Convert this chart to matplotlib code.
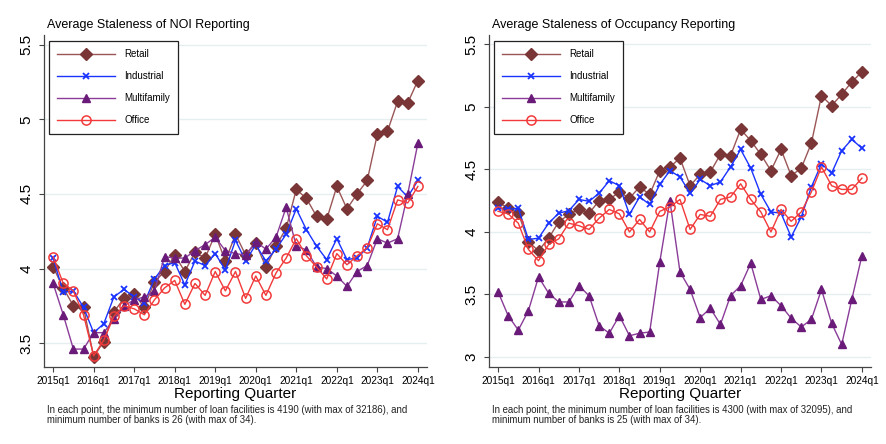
import numpy as np
import matplotlib.pyplot as plt

plt.rcParams['font.family'] = ['Liberation Sans', 'DejaVu Sans']

quarters = ['%dq%d' % (y, q) for y in range(2015, 2025) for q in range(1, 5)][:37]
tick_labels = ['%dq1' % y for y in range(2015, 2025)]

# NOI reporting staleness, 2015q1-2024q1
retail_noi = [4.01, 3.87, 3.75, 3.74, 3.41, 3.51, 3.71, 3.80, 3.83, 3.74, 3.91, 3.98, 4.09, 3.98, 4.11, 4.07,
              4.23, 4.05, 4.23, 4.09, 4.17, 4.01, 4.15, 4.27, 4.53, 4.47, 4.35, 4.33, 4.55, 4.40, 4.50, 4.59,
              4.90, 4.92, 5.12, 5.11, 5.26]
industrial_noi = [4.07, 3.84, 3.85, 3.74, 3.57, 3.63, 3.81, 3.86, 3.81, 3.77, 3.93, 4.02, 4.04, 3.89, 4.05, 4.02,
                  4.10, 3.99, 4.19, 4.05, 4.16, 4.05, 4.13, 4.23, 4.40, 4.26, 4.15, 4.06, 4.20, 4.06, 4.07, 4.14,
                  4.35, 4.31, 4.55, 4.48, 4.59]
multifamily_noi = [3.90, 3.69, 3.46, 3.46, 3.57, 3.57, 3.66, 3.75, 3.79, 3.81, 3.85, 4.08, 4.07, 4.07, 4.12, 4.16,
                   4.21, 4.12, 4.10, 4.09, 4.18, 4.13, 4.21, 4.41, 4.15, 4.125, 4.01, 4.00, 3.95, 3.88, 3.98, 4.02,
                   4.20, 4.17, 4.20, 4.50, 4.84]
office_noi = [4.08, 3.90, 3.85, 3.69, 3.415, 3.52, 3.68, 3.75, 3.73, 3.69, 3.79, 3.87, 3.92, 3.76, 3.90, 3.82,
              3.98, 3.85, 3.98, 3.80, 3.95, 3.82, 3.97, 4.07, 4.20, 4.085, 4.01, 3.93, 4.10, 4.025, 4.085, 4.14,
              4.30, 4.26, 4.46, 4.44, 4.55]

# occupancy reporting staleness
retail_occ = [4.24, 4.19, 4.15, 3.92, 3.85, 3.95, 4.08, 4.14, 4.18, 4.15, 4.25, 4.26, 4.32, 4.27, 4.36, 4.30,
              4.49, 4.52, 4.59, 4.37, 4.46, 4.48, 4.62, 4.61, 4.82, 4.73, 4.62, 4.49, 4.66, 4.45, 4.51, 4.71,
              5.09, 5.01, 5.10, 5.20, 5.28]
industrial_occ = [4.19, 4.18, 4.19, 3.94, 3.95, 4.07, 4.15, 4.17, 4.26, 4.245, 4.31, 4.41, 4.37, 4.14, 4.28, 4.22,
                  4.38, 4.49, 4.44, 4.31, 4.42, 4.37, 4.40, 4.52, 4.66, 4.51, 4.30, 4.16, 4.15, 3.96, 4.12, 4.36,
                  4.545, 4.47, 4.65, 4.74, 4.67]
multifamily_occ = [3.52, 3.33, 3.215, 3.37, 3.64, 3.51, 3.44, 3.44, 3.57, 3.49, 3.25, 3.19, 3.33, 3.17, 3.19, 3.20,
                   3.76, 4.25, 3.68, 3.54, 3.315, 3.39, 3.26, 3.49, 3.57, 3.75, 3.46, 3.49, 3.41, 3.31, 3.24, 3.30,
                   3.54, 3.27, 3.10, 3.46, 3.81]
office_occ = [4.165, 4.145, 4.07, 3.86, 3.77, 3.90, 3.945, 4.07, 4.05, 4.02, 4.11, 4.18, 4.145, 4.00, 4.10, 4.00,
              4.165, 4.20, 4.26, 4.02, 4.14, 4.125, 4.26, 4.28, 4.385, 4.26, 4.16, 4.00, 4.18, 4.085, 4.16, 4.32,
              4.52, 4.37, 4.34, 4.34, 4.43]

x = np.arange(len(quarters))

styles = {
    'Retail': dict(color='#9a5656', marker='D', ms=5.8, mfc='#7a3636', mec='#7a3636', lw=1.0),
    'Industrial': dict(color='#1a33ff', marker='x', ms=3.8, mew=1.3, lw=1.0),
    'Multifamily': dict(color='#8a3c98', marker='^', ms=5.6, mfc='#6a1a78', mec='#6a1a78', lw=1.0),
    'Office': dict(color='#f23a3a', marker='o', ms=6.6, mfc='none', mec='#f23a3a', mew=1.1, lw=1.0),
}

fig = plt.figure(figsize=(8.87, 4.44), dpi=100)
W, H = 887, 444


def draw_panel(rect_px, series, ylim, yticks, title, note):
    left, top, right, bottom = rect_px
    ax = fig.add_axes([left / W, 1 - bottom / H, (right - left) / W, (bottom - top) / H])
    for name, vals in series:
        ax.plot(x, vals, label=name, **styles[name])
    ax.set_xlim(-0.9, 36.9)
    ax.set_ylim(*ylim)
    ax.set_yticks(yticks)
    ax.set_yticklabels([('%g' % t) for t in yticks], rotation=90, va='center', fontsize=11)
    ax.set_xticks(np.arange(0, 37, 4))
    ax.set_xticklabels(tick_labels, fontsize=7.3)
    ax.tick_params(axis='both', direction='out', length=3.5, width=0.8, color='#444444')
    ax.tick_params(axis='y', pad=4)
    ax.tick_params(axis='x', pad=3)
    ax.grid(axis='y', color='#e6eff0', lw=1.0)
    ax.set_axisbelow(True)
    for s in ['top', 'right']:
        ax.spines[s].set_visible(False)
    for s in ['left', 'bottom']:
        ax.spines[s].set_color('#444444')
        ax.spines[s].set_linewidth(0.9)
    ax.set_xlabel('Reporting Quarter', fontsize=11, labelpad=1)
    leg = ax.legend(loc='upper left', bbox_to_anchor=(0.013, 0.983), borderaxespad=0,
                    fontsize=7, handlelength=5.9, handletextpad=1.0, labelspacing=1.25,
                    borderpad=0.85, fancybox=False, framealpha=1, edgecolor='#222222', numpoints=1)
    leg.get_frame().set_linewidth(0.9)
    fig.text((left + 3) / W, 1 - 25 / H, title, fontsize=9, va='center', ha='left')
    fig.text((left + 3) / W, 1 - 405 / H, note, fontsize=6.9, va='top', ha='left',
             color='#222222', linespacing=1.0)
    return ax


draw_panel((44, 35, 427, 367),
           [('Retail', retail_noi), ('Industrial', industrial_noi),
            ('Multifamily', multifamily_noi), ('Office', office_noi)],
           (3.34, 5.565), [3.5, 4, 4.5, 5, 5.5],
           'Average Staleness of NOI Reporting',
           'In each point, the minimum number of loan facilities is 4190 (with max of 32186), and\n'
           'minimum number of banks is 26 (with max of 34).')

draw_panel((489, 35, 871, 367),
           [('Retail', retail_occ), ('Industrial', industrial_occ),
            ('Multifamily', multifamily_occ), ('Office', office_occ)],
           (2.92, 5.575), [3, 3.5, 4, 4.5, 5, 5.5],
           'Average Staleness of Occupancy Reporting',
           'In each point, the minimum number of loan facilities is 4300 (with max of 32095), and\n'
           'minimum number of banks is 25 (with max of 34).')

fig.savefig('out.png', dpi=100, facecolor='white')
